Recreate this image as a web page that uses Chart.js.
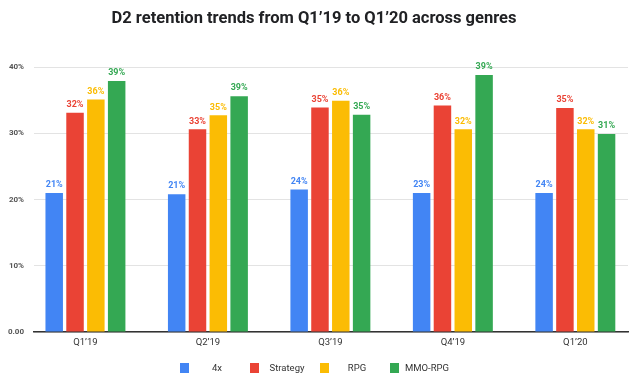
<!DOCTYPE html>
<html>
<head>
<meta charset="utf-8">
<script src="https://cdn.jsdelivr.net/npm/chart.js@4.4.1/dist/chart.umd.min.js"></script>
<style>
  html, body { margin: 0; padding: 0; background: #ffffff; }
  #wrap { position: relative; width: 640px; height: 379px; }
  #legend { position: absolute; left: 180px; top: 362px; display: flex; font-family: Roboto, "Open Sans", sans-serif; font-size: 9.5px; color: #333; }
  .item { width: 70px; height: 11px; position: relative; }
  .sw { position: absolute; left: 0; top: 1px; width: 9px; height: 10px; }
  .lt { position: absolute; left: 9px; width: 56px; text-align: center; top: 0; line-height: 12px; }
</style>
</head>
<body>
<div id="wrap">
  <canvas id="c" width="640" height="379"></canvas>
  <div id="legend"></div>
</div>
<script>
const categories = ["Q1\u201919", "Q2\u201919", "Q3\u201919", "Q4\u201919", "Q1\u201920"];
const seriesNames = ["4x", "Strategy", "RPG", "MMO-RPG"];
const seriesColors = ["#4285F4", "#EA4335", "#FBBC04", "#34A853"];
// bar heights (percent)
const v4x       = [21.0, 20.8, 21.5, 21.0, 21.0];
const vStrategy = [33.1, 30.6, 33.9, 34.2, 33.8];
const vRPG      = [35.1, 32.7, 34.9, 30.6, 30.6];
const vMMO      = [37.9, 35.6, 32.8, 38.8, 29.9];
// value labels printed above the bars
const l4x       = ["21%", "21%", "24%", "23%", "24%"];
const lStrategy = ["32%", "33%", "35%", "36%", "35%"];
const lRPG      = ["36%", "35%", "36%", "32%", "32%"];
const lMMO      = ["39%", "39%", "35%", "39%", "31%"];
const yTicks = [0, 10, 20, 30, 40];
const yTickLabels = ["0.00", "10%", "20%", "30%", "40%"];

const values = [v4x, vStrategy, vRPG, vMMO];
const valueLabels = [l4x, lStrategy, lRPG, lMMO];

const datasets = seriesNames.map((name, s) => ({
  label: name,
  data: values[s].map((y, i) => ({ x: i, y: y })),
  backgroundColor: seriesColors[s],
  borderWidth: 0,
  categoryPercentage: 0.68,
  barPercentage: 0.84
}));

const valueLabelPlugin = {
  id: 'valueLabels',
  afterDatasetsDraw(chart) {
    const ctx = chart.ctx;
    ctx.save();
    ctx.font = "bold 9px Roboto, 'Open Sans', sans-serif";
    ctx.textAlign = 'center';
    ctx.textBaseline = 'middle';
    chart.data.datasets.forEach((ds, s) => {
      const meta = chart.getDatasetMeta(s);
      ctx.fillStyle = seriesColors[s];
      meta.data.forEach((bar, i) => {
        ctx.fillText(valueLabels[s][i], bar.x, bar.y - 8);
      });
    });
    ctx.restore();
  }
};

new Chart(document.getElementById('c'), {
  type: 'bar',
  data: { datasets },
  plugins: [valueLabelPlugin],
  options: {
    responsive: false,
    animation: false,
    devicePixelRatio: 1,
    layout: { padding: { left: 0, right: 12, top: 0, bottom: 0 } },
    plugins: {
      legend: { display: false },
      tooltip: { enabled: false },
      title: {
        display: true,
        text: 'D2 retention trends from Q1\u201919 to Q1\u201920 across genres',
        color: '#202124',
        font: { family: "Roboto, 'Open Sans', sans-serif", size: 16.5, weight: 'bold', lineHeight: 1.2 },
        padding: { top: 9, bottom: 38.2 }
      }
    },
    scales: {
      x: {
        type: 'linear',
        min: -0.42,
        max: 4.43,
        offset: false,
        grid: { display: false, drawTicks: false },
        border: { display: true, color: '#333333', width: 1.5 },
        afterBuildTicks: (scale) => { scale.ticks = categories.map((_, i) => ({ value: i })); },
        afterFit: (scale) => { scale.height = 47; },
        ticks: {
          padding: 5,
          autoSkip: false,
          maxRotation: 0,
          color: '#333333',
          font: { family: "Roboto, 'Open Sans', sans-serif", size: 9.5 },
          callback: (v) => categories[v] !== undefined ? categories[v] : ''
        }
      },
      y: {
        min: 0,
        max: 40,
        grid: { color: '#e3e3e3', lineWidth: 1, drawTicks: false },
        border: { display: false },
        afterBuildTicks: (scale) => { scale.ticks = yTicks.map(v => ({ value: v })); },
        afterFit: (scale) => { scale.width = 34; },
        ticks: {
          padding: 10,
          color: '#555555',
          font: { family: "Roboto, 'Open Sans', sans-serif", size: 8, weight: 'bold' },
          callback: (v) => yTickLabels[yTicks.indexOf(v)]
        }
      }
    }
  }
});

const legend = document.getElementById('legend');
seriesNames.forEach((name, s) => {
  const item = document.createElement('div');
  item.className = 'item';
  const sw = document.createElement('div');
  sw.className = 'sw';
  sw.style.background = seriesColors[s];
  const lt = document.createElement('div');
  lt.className = 'lt';
  lt.textContent = name;
  item.appendChild(sw);
  item.appendChild(lt);
  legend.appendChild(item);
});
</script>
</body>
</html>
